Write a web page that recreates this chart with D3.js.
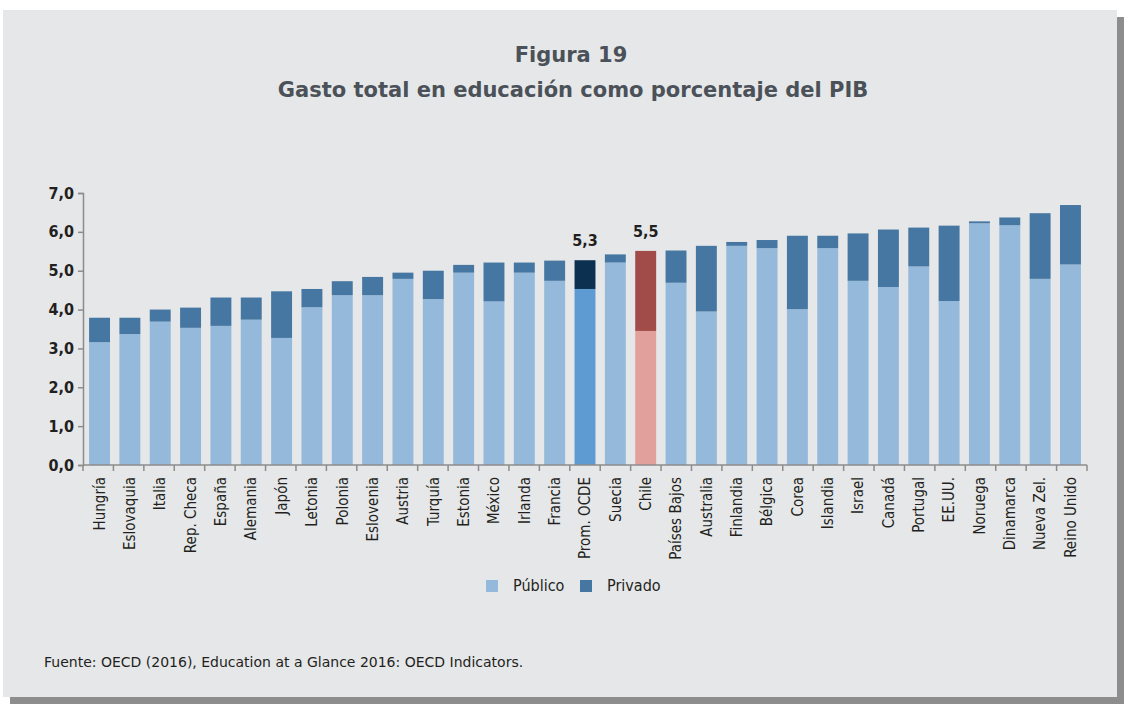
<!DOCTYPE html>
<html>
<head>
<meta charset="utf-8">
<script src="https://cdn.jsdelivr.net/npm/d3@7"></script>
<style>
  body { margin: 0; background: #fff; }
  .cond { font-family: "Liberation Sans Narrow", "DejaVu Sans Condensed", "Roboto Condensed", sans-serif; font-stretch: condensed; }
</style>
</head>
<body>
<div id="chart"></div>
<script>
// data
var countries = ["Hungría", "Eslovaquia", "Italia", "Rep. Checa", "España", "Alemania", "Japón", "Letonia",
  "Polonia", "Eslovenia", "Austria", "Turquía", "Estonia", "México", "Irlanda", "Francia", "Prom. OCDE",
  "Suecia", "Chile", "Países Bajos", "Australia", "Finlandia", "Bélgica", "Corea", "Islandia", "Israel",
  "Canadá", "Portugal", "EE.UU.", "Noruega", "Dinamarca", "Nueva Zel.", "Reino Unido"];

var publico = [3.16, 3.37, 3.69, 3.53, 3.58, 3.74, 3.27, 4.06, 4.37, 4.37, 4.79, 4.27, 4.95, 4.21, 4.95, 4.74, 4.53,
  5.21, 3.45, 4.69, 3.95, 5.64, 5.58, 4.01, 5.58, 4.74, 4.58, 5.11, 4.22, 6.22, 6.17, 4.79, 5.16];

var total = [3.79, 3.79, 4.00, 4.05, 4.31, 4.31, 4.47, 4.53, 4.73, 4.84, 4.95, 5.00, 5.15, 5.21, 5.21, 5.26, 5.27,
  5.42, 5.51, 5.52, 5.64, 5.74, 5.79, 5.90, 5.90, 5.96, 6.06, 6.11, 6.16, 6.27, 6.37, 6.48, 6.69];

var yTicks = [0, 1, 2, 3, 4, 5, 6, 7];
var highlightLabels = { "Prom. OCDE": "5,3", "Chile": "5,5" };

// layout
var svgWidth = 1132;
var svgHeight = 709;
var plot = { left: 83, right: 1087, top: 193, bottom: 465 };

var svg = d3.select("#chart")
  .append("svg")
  .attr("width", svgWidth)
  .attr("height", svgHeight);

// panel with shadow
svg.append("rect")
  .attr("x", 10).attr("y", 17)
  .attr("width", 1114).attr("height", 687)
  .attr("fill", "#8d8d8d");
svg.append("rect")
  .attr("x", 3).attr("y", 10)
  .attr("width", 1114).attr("height", 687)
  .attr("fill", "#e6e7e9");

// titles
svg.append("text")
  .attr("x", 571).attr("y", 62)
  .attr("text-anchor", "middle")
  .style("font-family", "'DejaVu Sans', sans-serif")
  .style("font-weight", "bold")
  .style("font-size", "21px")
  .style("fill", "#4b5158")
  .text("Figura 19");
svg.append("text")
  .attr("x", 573).attr("y", 97)
  .attr("text-anchor", "middle")
  .style("font-family", "'DejaVu Sans', sans-serif")
  .style("font-weight", "bold")
  .style("font-size", "21px")
  .style("fill", "#4b5158")
  .text("Gasto total en educación como porcentaje del PIB");

// scales
var x = d3.scaleBand()
  .domain(countries)
  .range([plot.left, plot.right])
  .paddingInner(0.31)
  .paddingOuter(0.2);

var y = d3.scaleLinear()
  .domain([0, 7])
  .range([plot.bottom, plot.top]);

var fmt = d3.formatLocale({ decimal: ",", thousands: ".", grouping: [3], currency: ["", ""] }).format(".1f");

var rows = countries.map(function(c, i) {
  return { name: c, pub: publico[i], tot: total[i] };
});

function pubColor(d) {
  if (d.name == "Prom. OCDE") return "#5d9bd2";
  if (d.name == "Chile") return "#e2a09d";
  return "#95b9db";
}
function privColor(d) {
  if (d.name == "Prom. OCDE") return "#0b3050";
  if (d.name == "Chile") return "#a14c49";
  return "#4677a2";
}

// bars: public at bottom, private stacked on top
svg.selectAll(".pub")
  .data(rows)
  .enter()
  .append("rect")
  .attr("class", "pub")
  .attr("x", d => x(d.name))
  .attr("width", x.bandwidth())
  .attr("y", d => y(d.pub))
  .attr("height", d => y(0) - y(d.pub))
  .attr("fill", pubColor);

svg.selectAll(".priv")
  .data(rows)
  .enter()
  .append("rect")
  .attr("class", "priv")
  .attr("x", d => x(d.name))
  .attr("width", x.bandwidth())
  .attr("y", d => y(d.tot))
  .attr("height", d => y(d.pub) - y(d.tot))
  .attr("fill", privColor);

// value labels over the highlighted bars
svg.selectAll(".vlabel")
  .data(rows.filter(d => highlightLabels[d.name]))
  .enter()
  .append("text")
  .attr("class", "vlabel cond")
  .attr("x", d => x(d.name) + x.bandwidth() / 2)
  .attr("y", d => y(d.tot) - 14)
  .attr("text-anchor", "middle")
  .style("font-size", "16px")
  .style("font-weight", "bold")
  .style("fill", "#231f20")
  .text(d => highlightLabels[d.name]);

// y axis
var leftAxis = d3.axisLeft(y)
  .tickValues(yTicks)
  .tickSize(5)
  .tickFormat(fmt);

var gy = svg.append("g")
  .attr("transform", `translate(${plot.left}, 0)`)
  .call(leftAxis);
gy.select(".domain").attr("stroke", "#8c8c8c").attr("stroke-width", 1.5);
gy.selectAll(".tick line").attr("stroke", "#8c8c8c").attr("stroke-width", 1.5);
gy.selectAll(".tick text")
  .attr("class", "cond")
  .attr("x", -9)
  .style("font-size", "16px")
  .style("font-weight", "bold")
  .style("fill", "#231f20");

// x axis: baseline, boundary ticks, rotated labels
svg.append("line")
  .attr("x1", plot.left).attr("x2", plot.right)
  .attr("y1", plot.bottom).attr("y2", plot.bottom)
  .attr("stroke", "#8c8c8c").attr("stroke-width", 1.5);

var bounds = d3.range(countries.length + 1).map(i => plot.left + (plot.right - plot.left) * i / countries.length);
svg.selectAll(".xtick")
  .data(bounds)
  .enter()
  .append("line")
  .attr("x1", d => d).attr("x2", d => d)
  .attr("y1", plot.bottom).attr("y2", plot.bottom + 6)
  .attr("stroke", "#8c8c8c").attr("stroke-width", 1.5);

var bottomAxis = d3.axisBottom(x).tickSize(0);
var gx = svg.append("g")
  .attr("transform", `translate(0, ${plot.bottom})`)
  .call(bottomAxis);
gx.select(".domain").remove();
gx.selectAll(".tick text")
  .attr("class", "cond")
  .attr("transform", "rotate(-90)")
  .attr("x", -12)
  .attr("y", 0)
  .attr("dy", "0.35em")
  .style("text-anchor", "end")
  .style("font-size", "15px")
  .style("fill", "#231f20");

// legend
var legendItems = [
  { label: "Público", color: "#95b9db", x: 486 },
  { label: "Privado", color: "#4677a2", x: 580 }
];
var lg = svg.selectAll(".legend")
  .data(legendItems)
  .enter()
  .append("g")
  .attr("transform", d => `translate(${d.x}, 580)`);
lg.append("rect")
  .attr("width", 12).attr("height", 12)
  .attr("fill", d => d.color);
lg.append("text")
  .attr("class", "cond")
  .attr("x", 27).attr("y", 11)
  .style("font-size", "16px")
  .style("fill", "#231f20")
  .text(d => d.label);

// source
svg.append("text")
  .attr("x", 44).attr("y", 667)
  .style("font-family", "'DejaVu Sans', sans-serif")
  .style("font-size", "14px")
  .style("fill", "#231f20")
  .text("Fuente: OECD (2016), Education at a Glance 2016: OECD Indicators.");
</script>
</body>
</html>
